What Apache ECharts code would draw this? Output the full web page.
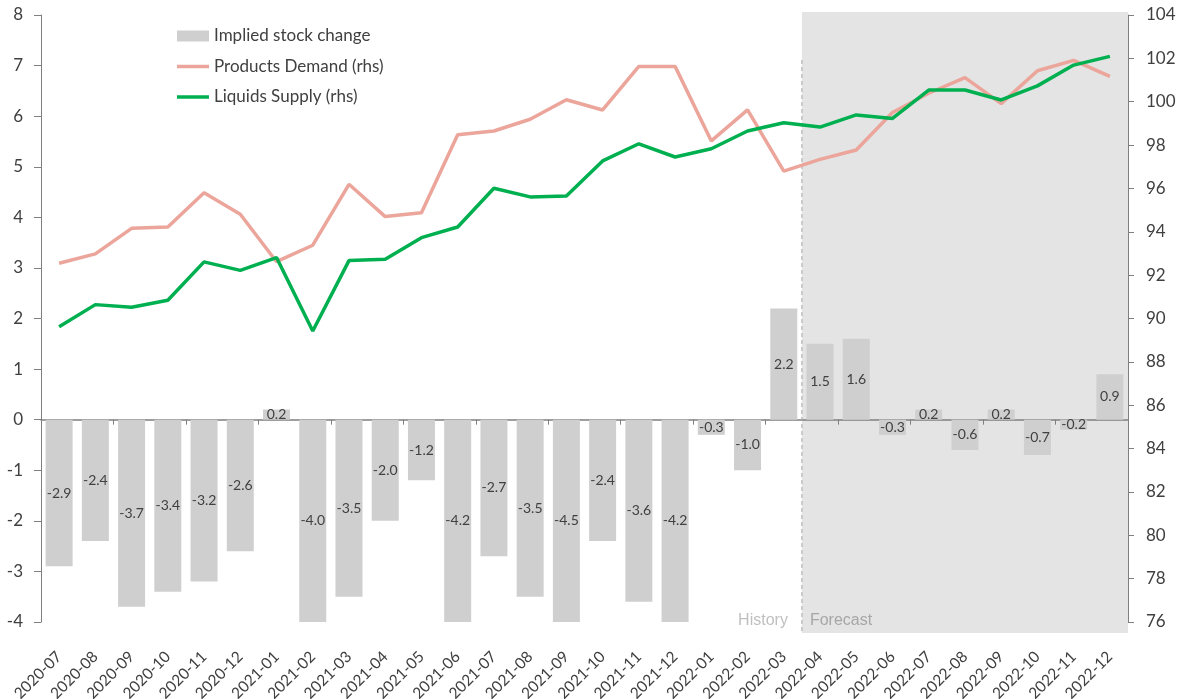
<!DOCTYPE html>
<html><head><meta charset="utf-8">
<script src="https://cdn.jsdelivr.net/npm/echarts@6/dist/echarts.min.js"></script>
<style>html,body{margin:0;padding:0;background:#fff}#c{width:1184px;height:699px}</style>
</head><body><div id="c"></div>
<script>
const categories = ['2020-07','2020-08','2020-09','2020-10','2020-11','2020-12','2021-01','2021-02','2021-03','2021-04','2021-05','2021-06','2021-07','2021-08','2021-09','2021-10','2021-11','2021-12','2022-01','2022-02','2022-03','2022-04','2022-05','2022-06','2022-07','2022-08','2022-09','2022-10','2022-11','2022-12'];
const stockChange = [-2.9,-2.4,-3.7,-3.4,-3.2,-2.6,0.2,-4.0,-3.5,-2.0,-1.2,-4.2,-2.7,-3.5,-4.5,-2.4,-3.6,-4.2,-0.3,-1.0,2.2,1.5,1.6,-0.3,0.2,-0.6,0.2,-0.7,-0.2,0.9];
const productsDemand = [92.55,92.98,94.16,94.22,95.80,94.81,92.62,93.38,96.19,94.70,94.88,98.48,98.65,99.19,100.09,99.62,101.63,101.63,98.19,99.62,96.80,97.34,97.77,99.50,100.39,101.11,99.91,101.43,101.91,101.17];
const liquidsSupply = [89.62,90.64,90.52,90.84,92.61,92.22,92.81,89.42,92.67,92.73,93.73,94.22,96.01,95.61,95.65,97.27,98.06,97.45,97.83,98.65,99.03,98.83,99.39,99.23,100.54,100.54,100.08,100.73,101.69,102.09];
const forecastStart = '2022-04';
const leftRange = {min: -4, max: 8, interval: 1};
const rightRange = {min: 76, max: 104, interval: 2};

const FONT = 'Lato';
const TXT = '#404040';
const AX = '#7f7f7f';
const LINE_ICON = 'path://M0,0H64V7H0Z';

const chart = echarts.init(document.getElementById('c'), null, {renderer: 'canvas'});
const option = {
  backgroundColor: '#fff',
  animation: false,
  textStyle: {fontFamily: FONT},
  grid: {left: 41, right: 56, top: 15, bottom: 77, containLabel: false, outerBoundsMode: 'none'},
  legend: {
    orient: 'vertical', left: 172, top: 21, itemWidth: 32, itemHeight: 11, itemGap: 10.5,
    symbolKeepAspect: true,
    textStyle: {fontSize: 17, color: TXT, fontFamily: FONT, lineHeight: 20},
    data: [
      {name: 'Implied stock change', icon: 'rect'},
      {name: 'Products Demand (rhs)', icon: LINE_ICON},
      {name: 'Liquids Supply (rhs)', icon: LINE_ICON}
    ]
  },
  xAxis: [
    {type: 'category', data: categories, position: 'bottom',
     axisLine: {onZero: true, lineStyle: {color: AX, width: 1.5}},
     axisTick: {show: true, length: 5, lineStyle: {color: AX}},
     axisLabel: {show: false}, splitLine: {show: false}},
    {type: 'category', data: categories, position: 'bottom',
     axisLine: {show: false, onZero: false}, axisTick: {show: false},
     axisLabel: {rotate: 45, fontSize: 15.5, color: TXT, fontFamily: FONT, margin: 32, interval: 0},
     splitLine: {show: false}}
  ],
  yAxis: [
    {type: 'value', position: 'left', min: leftRange.min, max: leftRange.max, interval: leftRange.interval,
     axisLine: {show: true, lineStyle: {color: AX}}, axisTick: {show: true, length: 7, lineStyle: {color: AX}},
     axisLabel: {fontSize: 17, color: TXT, fontFamily: FONT, margin: 18}, splitLine: {show: false}},
    {type: 'value', position: 'right', min: rightRange.min, max: rightRange.max, interval: rightRange.interval,
     axisLine: {show: true, lineStyle: {color: AX}}, axisTick: {show: true, length: 6, lineStyle: {color: AX}},
     axisLabel: {fontSize: 17, color: TXT, fontFamily: FONT, margin: 18}, splitLine: {show: false}}
  ],
  series: [
    {name: 'Implied stock change', type: 'bar', data: stockChange, xAxisIndex: 0, yAxisIndex: 0,
     barWidth: 27, itemStyle: {color: '#d0cfd0'}, z: 2,
     label: {show: true, position: 'inside', color: TXT, fontSize: 14, fontFamily: FONT,
       formatter: p => p.value.toFixed(1)}},
    {name: 'Products Demand (rhs)', type: 'line', data: productsDemand, xAxisIndex: 0, yAxisIndex: 1,
     symbol: 'none', showSymbol: false, lineStyle: {color: '#eba59b', width: 3.5}, itemStyle: {color: '#eba59b'}, z: 3},
    {name: 'Liquids Supply (rhs)', type: 'line', data: liquidsSupply, xAxisIndex: 0, yAxisIndex: 1,
     symbol: 'none', showSymbol: false, lineStyle: {color: '#00b050', width: 3.5}, itemStyle: {color: '#00b050'}, z: 4}
  ]
};
chart.setOption(option);

const band = chart.convertToPixel({xAxisIndex: 0}, categories[1]) - chart.convertToPixel({xAxisIndex: 0}, categories[0]);
const xF = chart.convertToPixel({xAxisIndex: 0}, forecastStart) - band / 2;
const xR = chart.convertToPixel({xAxisIndex: 0}, categories[categories.length - 1]) + band / 2;
const yTop = chart.convertToPixel({yAxisIndex: 0}, leftRange.max);
const yBot = chart.convertToPixel({yAxisIndex: 0}, leftRange.min);

chart.setOption({
  graphic: [
    {type: 'rect', z: -10, silent: true,
     shape: {x: xF, y: yTop - 3, width: xR - xF, height: (yBot + 11) - (yTop - 3)},
     style: {fill: '#e4e4e4'}},
    {type: 'line', z: 1, silent: true,
     shape: {x1: xF, y1: yTop + 45, x2: xF, y2: yBot + 11},
     style: {stroke: '#a6a6a6', lineWidth: 1, lineDash: [4, 3]}},
    {type: 'text', z: 1, silent: true,
     style: {text: 'History', x: xF - 14, y: yBot - 1, align: 'right', verticalAlign: 'middle',
       textAlign: 'right', textVerticalAlign: 'middle', fill: '#bfbfbf', font: '16px "Liberation Sans"'}},
    {type: 'text', z: 1, silent: true,
     style: {text: 'Forecast', x: xF + 8, y: yBot - 1, align: 'left', verticalAlign: 'middle',
       textAlign: 'left', textVerticalAlign: 'middle', fill: '#a6a6a6', font: '16px "Liberation Sans"'}}
  ]
});
</script></body></html>
